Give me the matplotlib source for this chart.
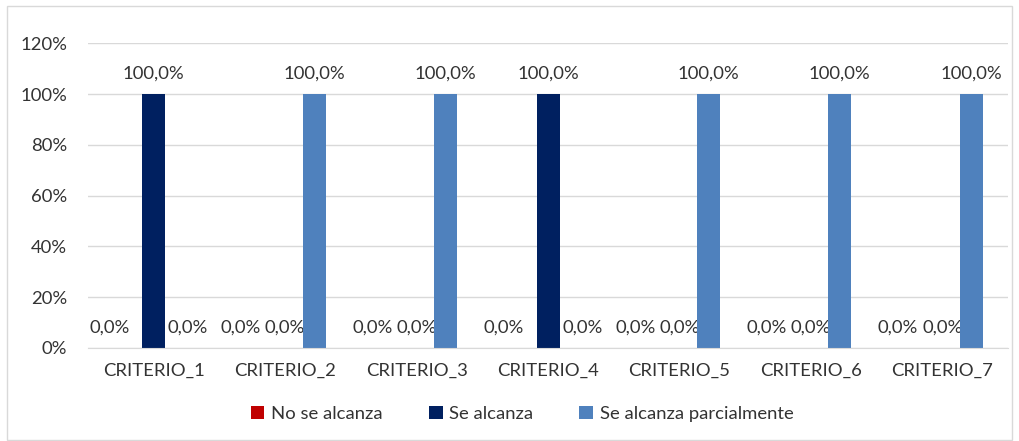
import matplotlib
matplotlib.use("Agg")
import matplotlib.pyplot as plt
from matplotlib.patches import Rectangle, Patch
import numpy as np

categories = ["CRITERIO_1", "CRITERIO_2", "CRITERIO_3", "CRITERIO_4",
              "CRITERIO_5", "CRITERIO_6", "CRITERIO_7"]
series_names = ["No se alcanza", "Se alcanza", "Se alcanza parcialmente"]
no_se_alcanza = [0.0, 0.0, 0.0, 0.0, 0.0, 0.0, 0.0]
se_alcanza = [1.0, 0.0, 0.0, 1.0, 0.0, 0.0, 0.0]
se_alcanza_parcial = [0.0, 1.0, 1.0, 0.0, 1.0, 1.0, 1.0]
y_ticks = [0, 0.2, 0.4, 0.6, 0.8, 1.0, 1.2]
y_tick_labels = ["0%", "20%", "40%", "60%", "80%", "100%", "120%"]

colors = ["#C00000", "#002060", "#4F81BD"]
text_color = "#333333"
grid_color = "#D9D9D9"
font = "Lato"
fs = 13.3

plt.rcParams["font.family"] = [font, "DejaVu Sans"]

fig = plt.figure(figsize=(10.19, 4.41), dpi=100)
ax = fig.add_axes([88 / 1019, 1 - 348 / 441, (1008 - 88) / 1019, (348 - 43.3) / 441])

x = np.arange(len(categories))
bar_w = 0.175
offsets = [-0.22, 0.0, 0.22]
# horizontal nudges (points) for zero-value labels, per series
zero_nudge = [-11, 0, 4]
all_series = [no_se_alcanza, se_alcanza, se_alcanza_parcial]

for vals, off, col, name, nud in zip(all_series, offsets, colors, series_names, zero_nudge):
    bars = ax.bar(x + off, vals, width=bar_w, color=col, label=name, zorder=3)
    for b, v in zip(bars, vals):
        dx = nud if v == 0 else 0
        ax.annotate(f"{v*100:.1f}%".replace(".", ","),
                    xy=(b.get_x() + b.get_width() / 2, v),
                    xytext=(dx, 14.4), textcoords="offset points",
                    ha="center", va="center", fontsize=fs, color=text_color)

ax.set_xlim(-0.5, len(categories) - 0.5)
ax.set_ylim(0, 1.2)
ax.set_yticks(y_ticks)
ax.set_yticklabels(y_tick_labels, fontsize=fs, color=text_color)
ax.set_xticks(x)
ax.set_xticklabels(categories, fontsize=fs, color=text_color)
ax.tick_params(axis="both", length=0)
ax.tick_params(axis="y", pad=15)
ax.tick_params(axis="x", pad=11)
ax.grid(axis="y", color=grid_color, linewidth=1, zorder=0)
for s in ["top", "right", "left"]:
    ax.spines[s].set_visible(False)
ax.spines["bottom"].set_color(grid_color)
ax.spines["bottom"].set_zorder(4)

handles = [Patch(facecolor=c, label=n) for c, n in zip(colors, series_names)]
fig.legend(handles=handles, loc="center", bbox_to_anchor=(522 / 1019, 1 - 414 / 441),
           ncol=3, frameon=False, fontsize=fs, handlelength=0.75, handleheight=0.75,
           handletextpad=0.35, columnspacing=2.5, labelcolor=text_color)

fig.patches.append(Rectangle((7 / 1019, 1 / 441), 1005 / 1019, 434 / 441,
                             transform=fig.transFigure, fill=False,
                             edgecolor="#D9D9D9", linewidth=1))

fig.savefig("out.png", dpi=100, facecolor="white")
